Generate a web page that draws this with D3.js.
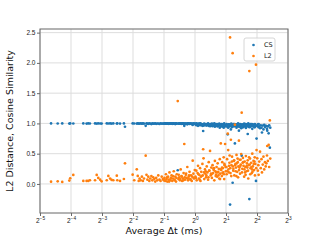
<!DOCTYPE html>
<html><head><meta charset="utf-8">
<script src="https://cdn.jsdelivr.net/npm/d3@7/dist/d3.min.js"></script>
<style>body{margin:0;background:#fff}svg{display:block;font-family:"DejaVu Sans",sans-serif}</style>
</head><body>
<svg id="c" width="320" height="240"></svg>
<script>
const seriesNames = ["CS", "L2"];
const seriesColors = ["#1f77b4", "#ff7f0e"];
const xTickExps = [-5, -4, -3, -2, -1, 0, 1, 2, 3];
const yTicks = [0.0, 0.5, 1.0, 1.5, 2.0, 2.5];
const xLabel = "Average Δt (ms)";
const yLabel = "L2 Distance, Cosine Similarity";

const avgDt = [
0.0400,0.0464,0.0514,0.0602,0.0614,0.0658,0.0823,0.0886,0.0919,0.0954,0.107,0.111,0.115,0.120,0.124,0.139,0.144,0.150,0.155,0.161,0.174,0.176,0.187,0.204,0.209,0.248,0.257,0.272,0.278,0.284,
0.290,0.297,0.305,0.312,0.320,0.332,0.338,0.345,0.352,0.360,0.368,0.377,0.385,0.393,0.402,0.411,0.420,0.430,0.440,0.452,0.463,0.475,0.487,0.498,
0.505,0.515,0.522,0.530,0.538,0.547,0.556,0.565,0.574,0.583,0.592,0.602,0.612,0.622,0.632,0.643,0.654,0.665,0.680,0.690,0.702,0.714,0.726,0.738,0.750,0.763,0.775,0.787,0.800,0.814,0.828,0.842,0.856,0.870,0.885,0.900,0.915,0.930,0.950,0.965,0.980,0.995,
0.51,0.535,0.56,0.585,0.61,0.635,0.66,0.695,0.72,0.745,0.77,0.795,0.82,0.85,0.875,0.905,0.94,0.97,
1.01,1.03,1.04,1.06,1.07,1.09,1.10,1.12,1.13,1.15,1.16,1.18,1.20,1.21,1.23,1.25,1.26,1.28,1.30,1.32,1.34,1.36,1.38,1.40,1.42,1.44,1.46,1.48,1.50,1.52,1.54,1.56,1.58,1.60,1.62,1.64,1.66,1.68,1.70,1.72,1.74,1.76,1.78,1.80,1.82,1.84,1.86,1.88,1.90,1.92,1.94,1.96,1.98,
1.11,1.19,1.27,1.35,1.43,1.51,1.59,1.67,1.75,1.83,1.91,1.99,
1.02,1.08,1.14,1.22,1.29,1.37,1.45,1.53,1.61,1.69,1.77,1.85,1.93,
2.02,2.05,2.08,2.10,2.13,2.16,2.19,2.20,2.23,2.26,2.29,2.32,2.35,2.38,2.41,2.44,2.47,2.50,2.53,2.57,2.60,2.64,2.67,2.71,2.74,2.78,2.81,2.84,2.88,2.92,2.96,3.00,3.04,3.08,3.12,3.16,3.20,3.25,3.29,3.33,3.37,3.42,3.46,3.51,3.56,3.60,3.65,3.70,3.75,3.80,3.85,3.91,3.96,
2.03,2.11,2.17,2.25,2.33,2.40,2.48,2.55,2.62,2.70,2.77,2.86,2.94,3.02,3.10,3.18,3.27,3.35,3.44,3.53,3.62,3.72,3.82,3.93,
2.06,2.14,2.21,2.28,2.36,2.45,2.52,2.59,2.68,2.76,2.90,3.06,3.22,3.40,3.58,3.78,
4.02,4.08,4.12,4.15,4.21,4.28,4.35,4.42,4.47,4.55,4.62,4.70,4.78,4.86,4.93,5.00,5.03,5.10,5.19,5.25,5.33,5.38
];
const csValues = [
1,0.999,1,0.998,1,0.999,1,0.998,1,0.999,1,0.997,1,0.999,0.998,1,0.999,1,0.997,1,0.999,1,0.998,1,0.945,1,0.999,0.997,1,0.998,
0.998,1,0.995,1,0.997,0.96,1,0.998,0.993,1,0.997,0.99,1,0.996,0.998,1,0.994,0.999,0.997,0.992,1,0.996,0.998,0.995,
0.998,1,0.997,0.995,1,0.999,0.993,0.998,1,0.996,0.999,0.994,1,0.997,0.998,0.99,1,0.996,0.226,0.999,0.995,1,0.997,0.993,0.998,1,0.996,0.96,0.999,0.994,0.998,0.985,1,0.997,0.992,0.999,0.996,0.99,0.975,0.998,0.995,0.993,
1,0.998,0.997,1,0.995,0.999,1,0.996,0.998,1,0.997,0.999,0.994,1,0.996,0.998,0.995,0.997,
0.99,0.97,1.0,0.98,0.96,0.995,0.985,0.97,1.0,0.975,0.99,0.96,0.875,0.965,0.995,0.97,0.985,0.99,0.965,0.98,1.0,0.96,0.975,0.955,0.99,0.965,0.995,0.955,0.98,0.97,1.0,0.945,0.975,0.985,0.96,0.99,0.95,0.975,0.965,0.995,0.93,0.98,0.96,0.97,0.99,0.945,0.965,0.98,0.93,1.0,0.955,0.975,0.96,
0.995,0.985,0.975,0.99,0.98,0.965,0.99,0.97,0.985,0.96,0.975,0.955,
0.995,0.99,0.985,0.99,0.98,0.985,0.975,0.99,0.97,0.98,0.965,0.975,0.97,
0.97,0.95,0.82,0.93,0.985,0.96,-0.34,0.975,0.90,0.965,0.94,0.02,0.98,0.955,0.99,0.67,0.96,0.975,0.93,0.985,0.95,0.97,0.88,0.945,0.99,0.96,0.92,0.467,0.975,0.935,0.965,0.995,0.95,0.97,0.925,0.985,0.955,0.825,1.0,0.965,-0.25,0.94,0.975,0.955,0.99,0.91,0.97,0.95,0.98,0.935,0.96,0.05,0.75,
0.99,0.975,0.95,0.995,0.97,0.955,0.985,0.96,1.0,0.97,0.945,0.985,0.96,0.975,0.99,0.965,0.98,0.94,0.99,0.97,0.985,0.955,0.99,0.965,
0.96,0.985,0.97,0.955,0.99,0.975,0.96,0.985,0.95,0.975,0.965,0.98,0.955,0.97,0.985,0.96,
0.96,0.985,0.94,0.99,0.95,0.92,0.97,0.93,0.85,0.965,0.90,0.975,0.94,0.96,0.957,0.91,0.88,0.95,0.836,0.97,0.6,0.93
];
const l2Values = [
0.038,0.044,0.033,0.055,0.094,0.149,0.05,0.05,0.05,0.061,0.061,0.149,0.099,0.071,0.044,0.061,0.132,0.088,0.066,0.061,0.137,0.061,0.05,0.082,0.341,0.154,0.061,0.242,0.132,0.05,
0.09,0.06,0.12,0.05,0.09,0.467,0.15,0.07,0.12,0.05,0.09,0.13,0.06,0.11,0.08,0.04,0.10,0.06,0.14,0.07,0.05,0.12,0.08,0.06,
0.10,0.05,0.16,0.08,0.04,0.12,0.07,0.19,0.06,0.10,0.14,0.05,0.09,0.21,0.07,0.12,0.04,0.16,1.37,0.08,0.11,0.06,0.24,0.13,0.05,0.09,0.18,0.66,0.07,0.15,0.10,0.28,0.06,0.12,0.20,0.08,0.14,0.05,0.385,0.17,0.09,0.23,
0.06,0.11,0.04,0.09,0.13,0.06,0.10,0.15,0.08,0.12,0.06,0.11,0.17,0.09,0.14,0.07,0.12,0.10,
0.12,0.22,0.06,0.18,0.30,0.09,0.15,0.26,0.05,0.20,0.13,0.33,0.573,0.424,0.08,0.24,0.17,0.11,0.29,0.19,0.07,0.36,0.22,0.545,0.14,0.27,0.10,0.31,0.18,0.23,0.06,0.38,0.21,0.15,0.28,0.12,0.34,0.20,0.25,0.09,0.41,0.17,0.67,0.23,0.13,0.36,0.26,0.19,0.44,0.08,0.31,0.66,0.28,
0.07,0.14,0.21,0.11,0.17,0.25,0.13,0.19,0.08,0.27,0.16,0.21,
0.10,0.16,0.12,0.19,0.14,0.22,0.16,0.26,0.19,0.14,0.24,0.18,0.33,
0.28,0.41,0.83,0.56,0.19,0.35,2.42,0.26,0.73,0.31,0.45,2.16,0.22,0.38,0.14,0.98,0.33,0.27,0.48,0.20,0.36,0.29,0.715,0.40,0.17,0.32,0.495,1.177,0.25,0.43,0.30,0.12,0.37,0.28,0.46,0.21,0.34,0.39,0.09,0.31,1.865,0.42,0.26,0.35,0.18,0.50,0.29,0.38,0.23,0.44,0.33,1.97,0.56,
0.16,0.24,0.47,0.13,0.29,0.39,0.21,0.34,0.11,0.27,0.40,0.19,0.36,0.24,0.15,0.30,0.22,0.44,0.16,0.28,0.20,0.33,0.14,0.26,
0.21,0.30,0.18,0.37,0.25,0.31,0.13,0.42,0.23,0.30,0.35,0.19,0.27,0.32,0.24,0.37,
0.424,0.22,0.31,0.15,0.37,0.533,0.26,0.41,0.19,0.32,0.45,0.24,0.36,0.29,0.34,0.47,0.627,0.38,0.644,0.28,1.05,0.42
];

const W = 320, H = 240;
const m = {l: 40, r: 32, t: 29, b: 27};
const svg = d3.select("#c");
const x = d3.scaleLog().base(2).domain([Math.pow(2, -5), Math.pow(2, 3)]).range([m.l, W - m.r]);
const y = d3.scaleLinear().domain([-0.48, 2.56]).range([H - m.b, m.t]);
const xTicks = xTickExps.map(e => Math.pow(2, e));

// grid
const g = svg.append("g");
g.selectAll(".gx").data(xTicks).join("line")
  .attr("x1", d => x(d)).attr("x2", d => x(d)).attr("y1", m.t).attr("y2", H - m.b)
  .attr("stroke", "#dddddd").attr("stroke-width", 1);
g.selectAll(".gy").data(yTicks).join("line")
  .attr("y1", d => y(d)).attr("y2", d => y(d)).attr("x1", m.l).attr("x2", W - m.r)
  .attr("stroke", "#dddddd").attr("stroke-width", 1);

// points
const data = avgDt.map((t, i) => ({t, cs: csValues[i], l2: l2Values[i]}));
const pts = svg.append("g");
pts.selectAll(".cs").data(data).join("circle")
  .attr("cx", d => x(d.t)).attr("cy", d => y(d.cs)).attr("r", 1.35).attr("fill", seriesColors[0]);
pts.selectAll(".l2").data(data).join("circle")
  .attr("cx", d => x(d.t)).attr("cy", d => y(d.l2)).attr("r", 1.35).attr("fill", seriesColors[1]);

// axes
const xAxis = d3.axisBottom(x).tickValues(xTicks).tickSize(3).tickFormat(() => "");
const yAxis = d3.axisLeft(y).tickValues(yTicks).tickSize(3).tickFormat(d3.format(".1f"));
const gx = svg.append("g").attr("transform", `translate(0,${H - m.b})`).call(xAxis);
const gy = svg.append("g").attr("transform", `translate(${m.l},0)`).call(yAxis);
[gx, gy].forEach(a => {
  a.select(".domain").remove();
  a.selectAll(".tick line").attr("stroke", "#444").attr("stroke-width", 0.8);
  a.selectAll("text").attr("fill", "#222").style("font-size", "6.5px");
});
gy.selectAll("text").attr("x", -4.5);
gx.selectAll(".tick").each(function(d, i) {
  const t = d3.select(this).append("text").attr("y", 10).attr("text-anchor", "middle")
    .attr("fill", "#222").style("font-size", "6.5px");
  t.append("tspan").text("2");
  t.append("tspan").attr("dy", -3).style("font-size", "4.8px").text(xTickExps[i] < 0 ? "\u2212" + (-xTickExps[i]) : String(xTickExps[i]));
});

// frame
svg.append("rect").attr("x", m.l).attr("y", m.t).attr("width", W - m.r - m.l).attr("height", H - m.b - m.t)
  .attr("fill", "none").attr("stroke", "#666").attr("stroke-width", 1);

// labels
svg.append("text").attr("x", (m.l + W - m.r) / 2).attr("y", 234).attr("text-anchor", "middle")
  .style("font-size", "9.5px").attr("fill", "#111").text(xLabel);
svg.append("text").attr("transform", `translate(13,${(m.t + H - m.b) / 2}) rotate(-90)`).attr("text-anchor", "middle")
  .style("font-size", "9.5px").attr("fill", "#111").text(yLabel);

// legend
const lg = svg.append("g").attr("transform", "translate(244,38)");
lg.append("rect").attr("width", 31).attr("height", 23).attr("rx", 2)
  .attr("fill", "#fff").attr("fill-opacity", 0.8).attr("stroke", "#cccccc").attr("stroke-width", 0.8);
seriesNames.forEach((n, i) => {
  lg.append("circle").attr("cx", 9.5).attr("cy", 7 + i * 11).attr("r", 1.35).attr("fill", seriesColors[i]);
  lg.append("text").attr("x", 20).attr("y", 9.3 + i * 11).style("font-size", "6.5px").attr("fill", "#222").text(n);
});
</script>
</body></html>
